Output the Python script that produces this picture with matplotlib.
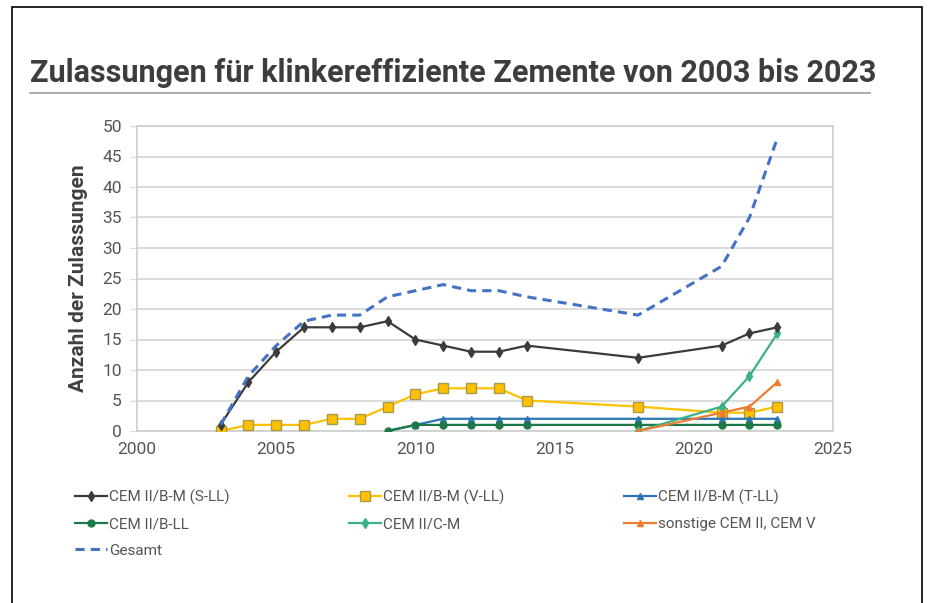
import matplotlib.pyplot as plt
from matplotlib.patches import Rectangle
from matplotlib.lines import Line2D

plt.rcParams['font.family'] = ['Roboto', 'DejaVu Sans']

years_a = [2003, 2004, 2005, 2006, 2007, 2008, 2009, 2010, 2011, 2012, 2013,
           2014, 2018, 2021, 2022, 2023]
s_ll = [1, 8, 13, 17, 17, 17, 18, 15, 14, 13, 13, 14, 12, 14, 16, 17]
v_ll = [0, 1, 1, 1, 2, 2, 4, 6, 7, 7, 7, 5, 4, 3, 3, 4]
gesamt = [1, 9, 14, 18, 19, 19, 22, 23, 24, 23, 23, 22, 19, 27, 35, 48]

years_b = [2009, 2010, 2011, 2012, 2013, 2014, 2018, 2021, 2022, 2023]
t_ll = [0, 1, 2, 2, 2, 2, 2, 2, 2, 2]
b_ll = [0, 1, 1, 1, 1, 1, 1, 1, 1, 1]

years_c = [2018, 2021, 2022, 2023]
c_m = [0, 4, 9, 16]
sonstige = [0, 3, 4, 8]

W, H = 936, 603
fig = plt.figure(figsize=(W / 100, H / 100), dpi=100)
fig.patches.append(Rectangle((12 / W, -0.05), (922 - 12) / W, 1.05 - 7 / H,
                             transform=fig.transFigure, fill=False,
                             edgecolor='black', linewidth=1.2))

ax = fig.add_axes([137 / W, 1 - 431 / H, (833 - 137) / W, (431 - 126) / H])

ax.plot(years_a, s_ll, color='#3b3b3b', lw=1.6, marker='d', ms=5,
        label='CEM II/B-M (S-LL)', zorder=4)
ax.plot(years_a, v_ll, color='#FFC000', lw=1.6, marker='s', ms=7,
        mfc='#FFC000', mec='#a89a4a', mew=1, label='CEM II/B-M (V-LL)', zorder=3)
ax.plot(years_b, t_ll, color='#2E75B6', lw=1.6, marker='^', ms=5,
        label='CEM II/B-M (T-LL)', zorder=3)
ax.plot(years_b, b_ll, color='#1d7a48', lw=1.6, marker='o', ms=5,
        label='CEM II/B-LL', zorder=3)
ax.plot(years_c, c_m, color='#3cb08a', lw=1.6, marker='d', ms=5,
        label='CEM II/C-M', zorder=3)
ax.plot(years_c, sonstige, color='#ED7D31', lw=1.6, marker='^', ms=5,
        label='sonstige CEM II, CEM V', zorder=3)
ax.plot(years_a, gesamt, color='#4472C4', lw=2.2, ls=(0, (3, 2)),
        label='Gesamt', zorder=5)

ax.set_xlim(2000, 2025)
ax.set_ylim(0, 50)
ax.set_xticks(range(2000, 2026, 5))
ax.set_yticks(range(0, 51, 5))
ax.grid(axis='y', color='#d9d9d9', lw=1.3)
ax.set_axisbelow(True)
for sp in ax.spines.values():
    sp.set_color('#d0d0d0')
    sp.set_linewidth(1.3)
ax.tick_params(axis='y', length=5, color='#d9d9d9', labelsize=12.5,
               labelcolor='#555555', pad=6)
ax.tick_params(axis='x', length=0, labelsize=12.5, labelcolor='#555555', pad=8)
ax.set_ylabel('Anzahl der Zulassungen', fontsize=15, fontweight='bold',
              color='#404040', labelpad=10)

fig.text(30 / W, 1 - 73 / H, 'Zulassungen für klinkereffiziente Zemente von 2003 bis 2023',
         fontsize=22, fontweight='bold', color='#3d3d3d', va='center', ha='left')
fig.add_artist(Line2D([30 / W, 870 / W], [1 - 93 / H, 1 - 93 / H],
                      transform=fig.transFigure, color='#a0a0a0', lw=1.2))

h, l = ax.get_legend_handles_labels()
order = [0, 3, 6, 1, 4, 2, 5]
fig.legend([h[i] for i in order], [l[i] for i in order], ncol=3,
           loc='upper left', bbox_to_anchor=(61 / W, 1 - 476 / H),
           frameon=False, fontsize=11, labelcolor='#555555',
           handlelength=2.1, handletextpad=0.15, columnspacing=7.8,
           labelspacing=0.8)

fig.savefig('out.png', dpi=100)
